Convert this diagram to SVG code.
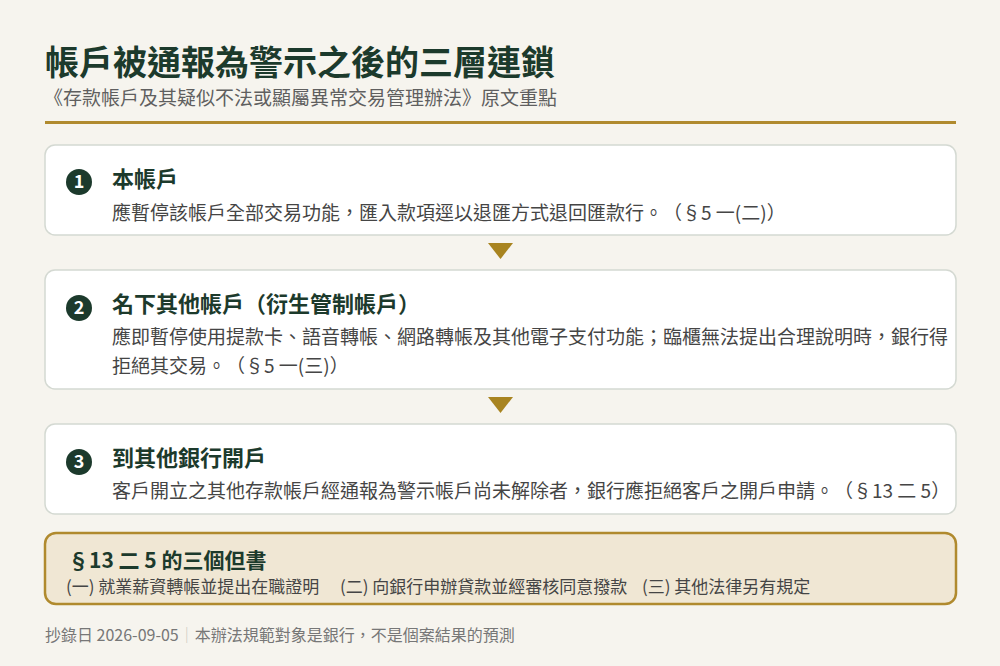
<svg xmlns="http://www.w3.org/2000/svg" width="1000" height="666" viewBox="0 0 1000 666">
<style>
text{font-family:"Noto Sans CJK TC","Noto Sans",sans-serif;text-spacing-trim:space-all}
.title{font-size:34px;font-weight:700;fill:#1c3a2c}
.sub{font-size:19px;fill:#5f5f5f}
.card{fill:#ffffff;stroke:#d4d9d2;stroke-width:1.5}
.num{fill:#1c3a2c}
.numt{font-size:18px;font-weight:700;fill:#ffffff;text-anchor:middle}
.h{font-size:22px;font-weight:700;fill:#1c3a2c}
.b{font-size:19px;fill:#454545}
.arrow{fill:#a88420}
.note{fill:#f0e7d4;stroke:#b08a2e;stroke-width:2.5}
.nh{font-size:21px;font-weight:700;fill:#1c3a2c}
.nb{font-size:17px;fill:#454545}
.foot{font-size:16px;fill:#777777}
</style>
<rect width="1000" height="666" fill="#f6f4ee"/>
<g id="header">
<text class="title" x="45" y="75">帳戶被通報為警示之後的三層連鎖</text>
<text class="sub" x="44" y="105">《存款帳戶及其疑似不法或顯屬異常交易管理辦法》原文重點</text>
<rect x="45" y="121" width="911" height="3" fill="#b08a2e"/>
</g>
<g id="connectors">
<polygon class="arrow" points="488,243 513,243 500.5,259"/>
<polygon class="arrow" points="488,397 513,397 500.5,413"/>
</g>
<g id="node1">
<rect class="card" x="45" y="145" width="911" height="90" rx="10"/>
<circle class="num" cx="79" cy="182" r="13"/>
<text class="numt" x="79" y="188">1</text>
<text class="h" x="112" y="187">本帳戶</text>
<text class="b" x="112" y="220">應暫停該帳戶全部交易功能，匯入款項逕以退匯方式退回匯款行。（§5 一(二)）</text>
</g>
<g id="node2">
<rect class="card" x="45" y="270" width="911" height="119" rx="10"/>
<circle class="num" cx="79" cy="308" r="13"/>
<text class="numt" x="79" y="314">2</text>
<text class="h" x="112" y="312">名下其他帳戶（衍生管制帳戶）</text>
<text class="b" x="112" y="344">應即暫停使用提款卡、語音轉帳、網路轉帳及其他電子支付功能；臨櫃無法提出合理說明時，銀行得</text>
<text class="b" x="112" y="373">拒絕其交易。（§5 一(三)）</text>
</g>
<g id="node3">
<rect class="card" x="45" y="424" width="911" height="90" rx="10"/>
<circle class="num" cx="79" cy="462" r="13"/>
<text class="numt" x="79" y="468">3</text>
<text class="h" x="112" y="466">到其他銀行開戶</text>
<text class="b" x="112" y="498">客戶開立之其他存款帳戶經通報為警示帳戶尚未解除者，銀行應拒絕客戶之開戶申請。（§13 二 5）</text>
</g>
<g id="note">
<rect class="note" x="45" y="533" width="911" height="71" rx="11"/>
<text class="nh" x="68" y="568">§13 二 5 的三個但書</text>
<text class="nb" x="66" y="593">(一) 就業薪資轉帳並提出在職證明</text>
<text class="nb" x="340" y="593">(二) 向銀行申辦貸款並經審核同意撥款</text>
<text class="nb" x="642" y="593">(三) 其他法律另有規定</text>
</g>
<g id="footer">
<text class="foot" x="45" y="641">抄錄日 2026-09-05<tspan fill="#cfcac0">｜</tspan>本辦法規範對象是銀行，不是個案結果的預測</text>
</g>
</svg>
